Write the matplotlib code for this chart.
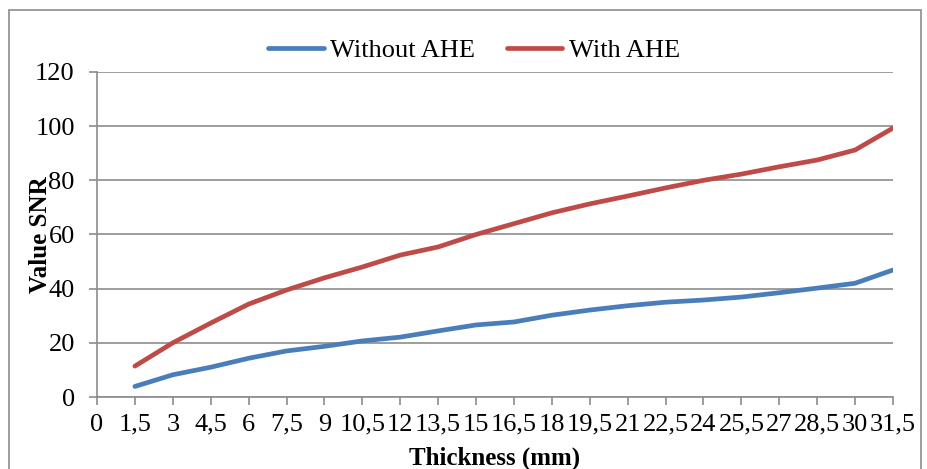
import matplotlib.pyplot as plt
from matplotlib.patches import Rectangle

thickness = ["0", "1,5", "3", "4,5", "6", "7,5", "9", "10,5", "12", "13,5", "15",
             "16,5", "18", "19,5", "21", "22,5", "24", "25,5", "27", "28,5", "30", "31,5"]
# values start at 1,5 (no value at 0)
without_ahe = [3.9, 8.2, 11.0, 14.3, 17.0, 18.7, 20.7, 22.1, 24.4, 26.6, 27.7,
               30.2, 32.1, 33.7, 35.0, 35.8, 36.9, 38.5, 40.2, 42.0, 46.9]
with_ahe = [11.4, 20.0, 27.3, 34.3, 39.5, 44.0, 48.0, 52.4, 55.4, 60.0, 64.0,
            68.0, 71.3, 74.2, 77.2, 80.0, 82.3, 85.0, 87.5, 91.2, 99.3]

plt.rcParams["font.family"] = ["Liberation Serif", "DejaVu Serif"]

W, H = 927, 469
fig = plt.figure(figsize=(W / 100, H / 100), dpi=100)
ax = fig.add_axes([97 / W, 1 - 397 / H, (893 - 97) / W, (397 - 72) / H])

fig.patches.append(Rectangle((9 / W, -0.05), (921 - 9) / W, 1 - 10 / H + 0.05,
                             transform=fig.transFigure, fill=False,
                             edgecolor="#8c8c8c", linewidth=1.2))

x = list(range(1, len(thickness)))
ax.plot(x, without_ahe, color="#4a7ebb", linewidth=3.4, solid_capstyle="round",
        solid_joinstyle="round", label="Without AHE")
ax.plot(x, with_ahe, color="#be4b48", linewidth=3.4, solid_capstyle="round",
        solid_joinstyle="round", label="With AHE")

ax.set_xlim(0, len(thickness) - 1)
ax.set_ylim(0, 120)
ax.set_xticks(range(len(thickness)))
ax.set_xticklabels(thickness)
ax.set_yticks(range(0, 121, 20))
ax.grid(axis="y", color="#8c8c8c", linewidth=1.2)
ax.set_axisbelow(True)
for s in ["top", "right"]:
    ax.spines[s].set_visible(False)
for s in ["left", "bottom"]:
    ax.spines[s].set_color("#8c8c8c")
    ax.spines[s].set_linewidth(1.2)
ax.tick_params(axis="both", colors="#8c8c8c", labelcolor="black", labelsize=19,
               direction="out", length=6, width=1.2)
ax.tick_params(axis="x", pad=6)
ax.tick_params(axis="y", pad=10)

ax.set_xlabel("Thickness (mm)", fontsize=18, fontweight="bold")
ax.xaxis.set_label_coords(0.5, -0.152)
ax.set_ylabel("Value SNR", fontsize=18, fontweight="bold", va="center")
ax.yaxis.set_label_coords(-0.071, 0.5)

ax.legend(loc="center", bbox_to_anchor=(0.474, 1.067), ncol=2, frameon=False,
          fontsize=19, handlelength=2.1, handletextpad=0.25, columnspacing=1.2,
          borderaxespad=0, borderpad=0)

fig.savefig("out.png", dpi=100)
